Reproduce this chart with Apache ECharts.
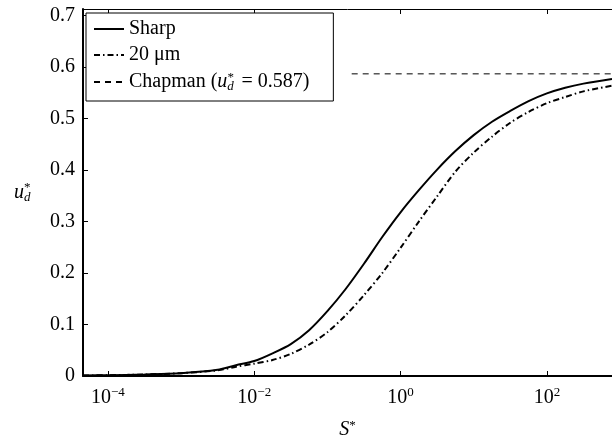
<!DOCTYPE html>
<html><head><meta charset="utf-8">
<script src="https://cdn.jsdelivr.net/npm/echarts@6/dist/echarts.min.js"></script>
<style>html,body{margin:0;padding:0;background:#fff}#c{width:612px;height:440px}</style>
</head><body><div id="c"></div>
<script>
// S* sample points (quarter decades)
const sValues = [4.57e-5, 1e-4, 3.162e-4, 1e-3, 3.162e-3, 5.623e-3, 1e-2, 1.778e-2, 3.162e-2, 5.623e-2,
  0.1, 0.1778, 0.3162, 0.5623, 1, 1.778, 3.162, 5.623, 10, 17.78, 31.62, 56.23, 100, 177.8, 316.2, 776];
const sharpU = [0.001, 0.0015, 0.003, 0.0055, 0.012, 0.021, 0.029, 0.044, 0.062, 0.089,
  0.126, 0.169, 0.218, 0.270, 0.318, 0.361, 0.401, 0.437, 0.468, 0.494, 0.515, 0.534, 0.549, 0.560, 0.568, 0.577];
const micron20U = [0.001, 0.0015, 0.003, 0.0055, 0.011, 0.018, 0.024, 0.031, 0.043, 0.061,
  0.085, 0.118, 0.157, 0.200, 0.249, 0.300, 0.349, 0.397, 0.434, 0.465, 0.492, 0.513, 0.530, 0.542, 0.553, 0.564];
const chapmanS = [0.215, 776];
const chapmanU = [0.587, 0.587];
const xTickExps = [-4, -2, 0, 2];
const yTicks = [0, 0.1, 0.2, 0.3, 0.4, 0.5, 0.6, 0.7];
const seriesNames = ['Sharp', '20 \u03bcm', 'Chapman'];

const FONT = 'Liberation Serif';
const toPts = (xs, ys) => xs.map((s, i) => [Math.log10(s), ys[i]]);
const supMinus = v => (v < 0 ? '\u2212' + (-v) : String(v));

const chart = echarts.init(document.getElementById('c'), null, {renderer: 'canvas'});
const xCommon = {
  type: 'value', min: -4.34, max: 2.89,
  splitLine: {show: false}
};
chart.setOption({
  animation: false,
  backgroundColor: '#fff',
  grid: {left: 83, right: 0, top: 9, bottom: 64, containLabel: false, outerBoundsMode: 'none'},
  legend: {
    orient: 'vertical', left: 86, top: 13,
    data: seriesNames,
    borderColor: '#000', borderWidth: 1, backgroundColor: '#fff',
    padding: [6, 24, 8, 7], itemGap: 6, itemWidth: 30, itemHeight: 14,
    itemStyle: {opacity: 0},
    textStyle: {fontFamily: FONT, fontSize: 20, color: '#000',
      rich: {
        it: {fontFamily: FONT, fontSize: 20, fontStyle: 'italic', color: '#000', align: 'left'},
        sub: {fontFamily: FONT, fontSize: 13, fontStyle: 'italic', color: '#000', padding: [9, 0, 0, 0], width: 0.1, align: 'left'},
        sup: {fontFamily: FONT, fontSize: 13, color: '#000', padding: [0, 0, 9, 0], width: 9, align: 'left'},
        n: {fontFamily: FONT, fontSize: 20, color: '#000', align: 'left'}
      }},
    formatter: name => name === 'Chapman' ? '{n|Chapman (}{it|u}{sub|d}{sup|*}{n| = 0.587)}' : name
  },
  xAxis: [
    Object.assign({}, xCommon, {
      position: 'bottom',
      name: '{it|S}{sup|*}', nameLocation: 'middle', nameGap: 43,
      nameTextStyle: {fontFamily: FONT, fontSize: 20, color: '#000',
        rich: {it: {fontFamily: FONT, fontSize: 20, fontStyle: 'italic', color: '#000'},
               sup: {fontFamily: FONT, fontSize: 13, color: '#000', padding: [0, 0, 9, 0]}}},
      axisLine: {show: true, onZero: false, lineStyle: {color: '#000', width: 2}},
      axisTick: {show: true, inside: true, length: 5, lineStyle: {color: '#000', width: 1}, customValues: xTickExps},
      axisLabel: {
        show: true, margin: 10, customValues: xTickExps, color: '#000',
        fontFamily: FONT, fontSize: 20,
        formatter: v => '{b|10}{sup|' + supMinus(v) + '}',
        rich: {b: {fontFamily: FONT, fontSize: 20, color: '#000'},
               sup: {fontFamily: FONT, fontSize: 13, color: '#000', padding: [0, 0, 10, 0]}}
      }
    }),
    Object.assign({}, xCommon, {
      position: 'top',
      axisLine: {show: true, onZero: false, lineStyle: {color: '#000', width: 1}},
      axisTick: {show: true, inside: true, length: 5, lineStyle: {color: '#000', width: 1}, customValues: xTickExps},
      axisLabel: {show: false}
    })
  ],
  yAxis: {
    type: 'value', min: 0, max: 0.713,
    splitLine: {show: false},
    name: '{it|u}{sub|d}{sup|*}', nameLocation: 'middle', nameRotate: 0, nameGap: 51,
    nameTextStyle: {fontFamily: FONT, fontSize: 20, color: '#000',
      rich: {it: {fontFamily: FONT, fontSize: 20, fontStyle: 'italic', color: '#000', align: 'left'},
             sub: {fontFamily: FONT, fontSize: 13, fontStyle: 'italic', color: '#000', padding: [10, 0, 0, 0], width: 0.1, align: 'left'},
             sup: {fontFamily: FONT, fontSize: 13, color: '#000', padding: [0, 0, 10, 0], width: 8, align: 'left'}}},
    axisLine: {show: true, onZero: false, lineStyle: {color: '#000', width: 2}},
    axisTick: {show: true, inside: true, length: 5, lineStyle: {color: '#000', width: 1}, customValues: yTicks},
    axisLabel: {show: true, margin: 8, customValues: yTicks, color: '#000', fontFamily: FONT, fontSize: 20,
      formatter: v => v === 0 ? '0' : v.toFixed(1)}
  },
  series: [
    {name: seriesNames[0], type: 'line', data: toPts(sValues, sharpU), symbol: 'none', smooth: 0.3,
     lineStyle: {color: '#000', width: 2, type: 'solid'}, itemStyle: {color: '#000'}},
    {name: seriesNames[1], type: 'line', data: toPts(sValues, micron20U), symbol: 'none', smooth: 0.3,
     lineStyle: {color: '#000', width: 2, type: [6, 3, 1.5, 3]}, itemStyle: {color: '#000'}},
    {name: seriesNames[2], type: 'line', data: toPts(chapmanS, chapmanU), symbol: 'none',
     lineStyle: {color: '#000', width: 1, type: [6, 5]}, itemStyle: {color: '#000'}}
  ]
});
</script></body></html>
